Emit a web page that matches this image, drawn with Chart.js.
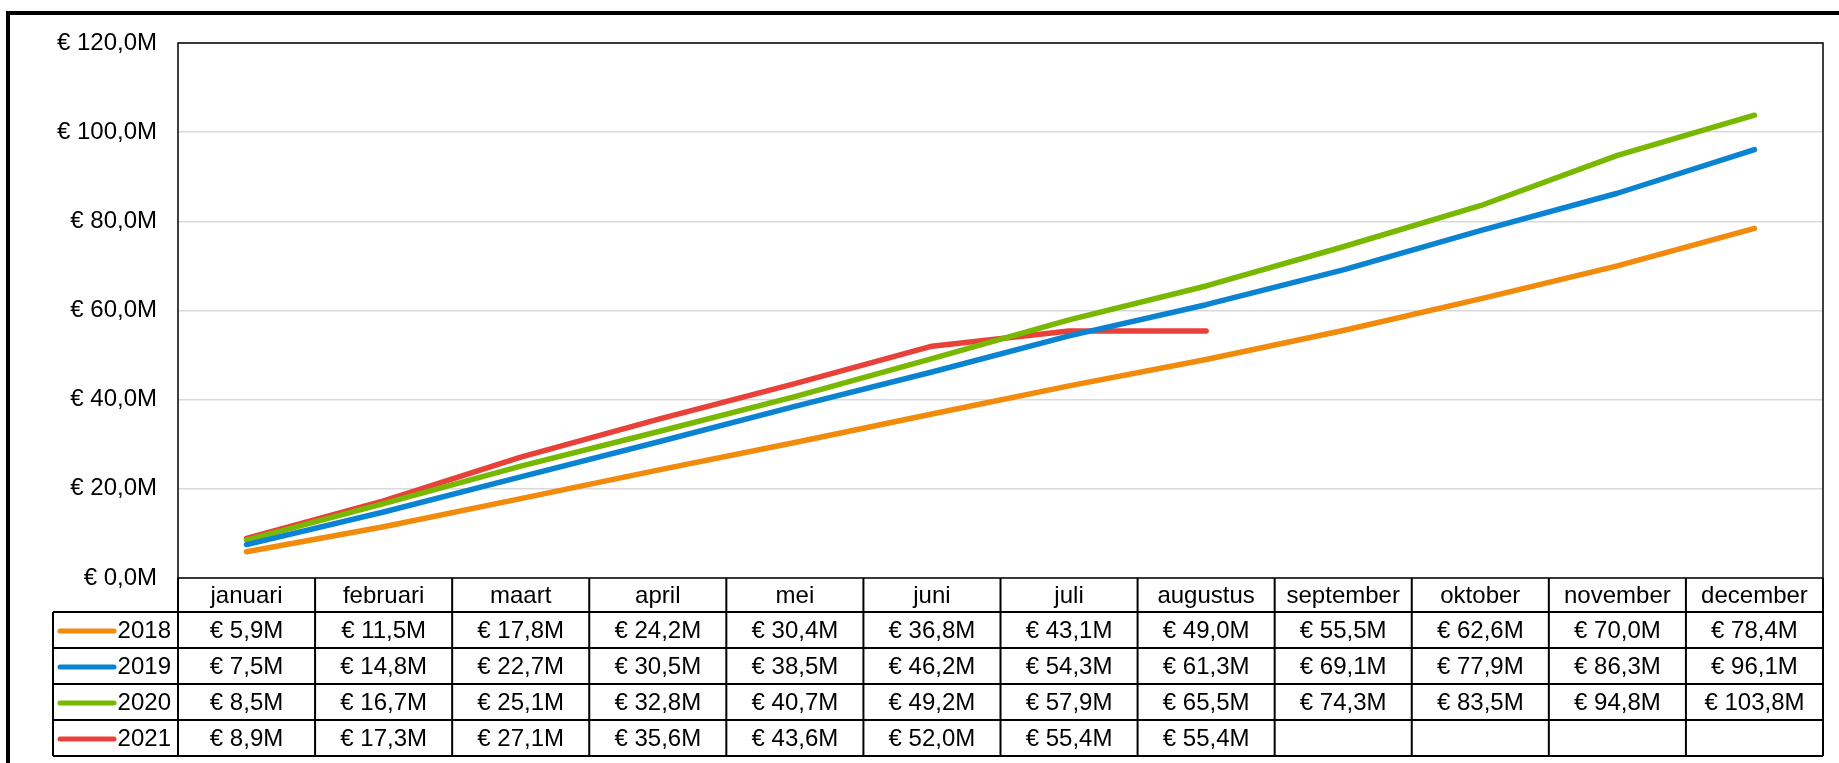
<!DOCTYPE html>
<html lang="nl">
<head>
    <meta charset="UTF-8">
    <title>Omzet cumulatief per maand</title>
    <style>
        body {
            margin: 0;
            padding: 0;
            background-color: #ffffff;
            font-family: "Liberation Sans", Arial, sans-serif;
        }
        .container {
            width: 1839px;
            height: 763px;
            position: relative;
        }
    </style>
    <script src="https://cdn.jsdelivr.net/npm/chart.js"></script>
</head>
<body>
    <div class="container">
        <canvas id="omzetChart"></canvas>
    </div>

    <script>
        // Months (x categories)
        const months = ['januari', 'februari', 'maart', 'april', 'mei', 'juni', 'juli',
                        'augustus', 'september', 'oktober', 'november', 'december'];

        // Cumulative values in millions of euro
        const values2018 = [5.9, 11.5, 17.8, 24.2, 30.4, 36.8, 43.1, 49.0, 55.5, 62.6, 70.0, 78.4];
        const values2019 = [7.5, 14.8, 22.7, 30.5, 38.5, 46.2, 54.3, 61.3, 69.1, 77.9, 86.3, 96.1];
        const values2020 = [8.5, 16.7, 25.1, 32.8, 40.7, 49.2, 57.9, 65.5, 74.3, 83.5, 94.8, 103.8];
        const values2021 = [8.9, 17.3, 27.1, 35.6, 43.6, 52.0, 55.4, 55.4, null, null, null, null];

        const yearLabels = ['2018', '2019', '2020', '2021'];
        const yearColors = ['#f28a0c', '#0a84d2', '#78b800', '#e8413a'];
        const yearValues = [values2018, values2019, values2020, values2021];

        // y-axis ticks (millions)
        const yMin = 0;
        const yMax = 120;
        const yStep = 20;

        const FONT = '"Liberation Sans", Arial, sans-serif';
        const FONT_SIZE = 24;

        function euro(v) {
            return '€ ' + v.toFixed(1).replace('.', ',') + 'M';
        }

        // Draws the thick outer frame, plot border and the data table below the plot
        const tablePlugin = {
            id: 'dataTable',
            afterDraw(chart) {
                const ctx = chart.ctx;
                const area = chart.chartArea;
                const xScale = chart.scales.x;
                const colW = (area.right - area.left) / months.length;
                const headerTop = area.bottom;
                const headerBottom = headerTop + 34;
                const rowH = 36;
                const legendLeft = 53;
                const tableBottom = headerBottom + rowH * yearLabels.length;

                ctx.save();

                // outer frame (only top & left visible)
                ctx.strokeStyle = '#000';
                ctx.lineWidth = 4;
                ctx.beginPath();
                ctx.moveTo(8, 763);
                ctx.lineTo(8, 13);
                ctx.lineTo(1839, 13);
                ctx.stroke();

                // plot area border
                ctx.lineWidth = 1.5;
                ctx.strokeRect(area.left, area.top, area.right - area.left, area.bottom - area.top);

                // table grid
                ctx.lineWidth = 2;
                ctx.beginPath();
                ctx.moveTo(area.left, headerBottom);
                ctx.lineTo(area.right, headerBottom);
                for (let r = 1; r <= yearLabels.length; r++) {
                    const y = headerBottom + r * rowH;
                    ctx.moveTo(legendLeft, y);
                    ctx.lineTo(area.right, y);
                }
                ctx.moveTo(legendLeft, headerBottom);
                ctx.lineTo(area.left, headerBottom);
                ctx.moveTo(legendLeft, headerBottom);
                ctx.lineTo(legendLeft, tableBottom);
                for (let c = 0; c <= months.length; c++) {
                    const x = area.left + c * colW;
                    ctx.moveTo(x, headerTop);
                    ctx.lineTo(x, tableBottom);
                }
                ctx.stroke();

                ctx.fillStyle = '#000';
                ctx.font = FONT_SIZE + 'px ' + FONT;
                ctx.textAlign = 'center';
                ctx.textBaseline = 'middle';

                // month labels
                months.forEach((m, i) => {
                    const cx = xScale.getPixelForValue(i);
                    ctx.fillText(m, cx, (headerTop + headerBottom) / 2 + 1);
                });

                // rows
                yearLabels.forEach((label, r) => {
                    const cy = headerBottom + r * rowH + rowH / 2 + 1;
                    // legend key
                    ctx.strokeStyle = yearColors[r];
                    ctx.lineWidth = 5;
                    ctx.lineCap = 'round';
                    ctx.beginPath();
                    ctx.moveTo(60, cy);
                    ctx.lineTo(114, cy);
                    ctx.stroke();
                    ctx.textAlign = 'right';
                    ctx.fillText(label, area.left - 7, cy);
                    ctx.textAlign = 'center';
                    yearValues[r].forEach((v, i) => {
                        if (v === null) return;
                        ctx.fillText(euro(v), xScale.getPixelForValue(i), cy);
                    });
                });

                ctx.restore();
            }
        };

        const ctx = document.getElementById('omzetChart').getContext('2d');
        const omzetChart = new Chart(ctx, {
            type: 'line',
            data: {
                labels: months,
                datasets: yearLabels.map((label, i) => ({
                    label: label,
                    data: yearValues[i],
                    borderColor: yearColors[i],
                    backgroundColor: yearColors[i],
                    borderWidth: 5.5,
                    borderCapStyle: 'round',
                    borderJoinStyle: 'round',
                    pointRadius: 0,
                    tension: 0,
                    spanGaps: false
                }))
            },
            options: {
                responsive: true,
                maintainAspectRatio: false,
                animation: false,
                layout: {
                    padding: { top: 43, right: 16, bottom: 185, left: 0 }
                },
                scales: {
                    x: {
                        display: false,
                        offset: true
                    },
                    y: {
                        min: yMin,
                        max: yMax,
                        afterFit(scale) {
                            scale.width = 178;
                        },
                        border: { display: false },
                        grid: {
                            color: '#d9d9d9',
                            lineWidth: 1.5,
                            drawTicks: false
                        },
                        ticks: {
                            stepSize: yStep,
                            padding: 21,
                            color: '#000',
                            font: { family: FONT, size: FONT_SIZE },
                            callback: function(value) {
                                return euro(value);
                            }
                        }
                    }
                },
                plugins: {
                    legend: { display: false },
                    tooltip: { enabled: false }
                }
            },
            plugins: [tablePlugin]
        });
    </script>
</body>
</html>
